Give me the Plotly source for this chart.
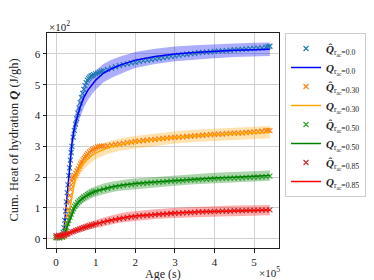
import plotly.graph_objects as go

# ---------------- data (x in units of 1e5 s, y in units of J/gh) ----------------
X_SCALE = 1e5

FIT_X = [0, 0.1, 0.15, 0.2, 0.25, 0.3, 0.35, 0.4, 0.45, 0.5, 0.6, 0.7, 0.8, 0.9, 1.0,
         1.2, 1.4, 1.6, 1.8, 2.0, 2.5, 3.0, 3.5, 4.0, 4.5, 5.0, 5.4]

FIT_R00 = [5, 5, 8, 30, 100, 180, 250, 310, 352, 380, 425, 458, 482, 500, 515,
           538, 552, 563, 572, 580, 592, 600, 605, 609, 612, 614, 615]
FIT_R30 = [5, 6, 6, 8, 25, 65, 106, 145, 175, 198, 228, 247, 260, 270, 278,
           290, 299, 305, 310, 314, 322, 329, 334, 338, 341, 344, 346]
FIT_R50 = [5, 5, 6, 12, 30, 48, 63, 80, 95, 108, 123, 134, 142, 149, 154,
           162, 168, 173, 176, 179, 184, 189, 194, 197, 200, 203, 205]
FIT_R85 = [8, 10, 11, 12, 14, 16, 20, 22, 25, 28, 32, 37, 41, 45, 48,
           55, 61, 67, 71, 74, 80, 84, 87, 89, 91, 92, 93]

BAND_R00 = [3, 4, 6, 10, 18, 25, 30, 32, 33, 33, 33, 33, 32, 32, 31,
            30, 29, 28, 27, 26, 25, 24, 23, 23, 22, 22, 22]
BAND_R30 = [3, 3, 4, 5, 10, 15, 18, 20, 21, 21, 21, 21, 21, 21, 20,
            20, 20, 20, 20, 20, 20, 20, 20, 20, 20, 20, 20]
BAND_R50 = [3, 3, 3, 4, 8, 10, 12, 13, 14, 15, 16, 16, 17, 17, 17,
            17, 17, 17, 17, 17, 17, 17, 17, 17, 17, 17, 17]
BAND_R85 = [4, 4, 5, 5, 6, 7, 8, 9, 10, 10, 11, 12, 12, 13, 13,
            14, 15, 15, 16, 16, 16, 17, 17, 17, 17, 17, 17]

OBS_X_R00 = [0, 0.03, 0.06, 0.09, 0.12, 0.15, 0.18, 0.2, 0.22, 0.24, 0.26, 0.28, 0.30, 0.32,
             0.34, 0.36, 0.38, 0.40, 0.43, 0.46, 0.49, 0.52, 0.55, 0.58, 0.61, 0.64, 0.67,
             0.70, 0.73, 0.76, 0.79, 0.82, 0.85, 0.88, 0.91, 0.95, 1.0, 1.05, 1.1, 1.15, 1.2,
             1.3, 1.4, 1.5, 1.6, 1.7, 1.8, 1.9, 2.0, 2.1, 2.2, 2.3, 2.4, 2.5, 2.6, 2.7, 2.8,
             2.9, 3.0, 3.1, 3.2, 3.3, 3.4, 3.5, 3.6, 3.7, 3.8, 3.9, 4.0, 4.1, 4.2, 4.3, 4.4,
             4.5, 4.6, 4.7, 4.8, 4.9, 5.0, 5.1, 5.2, 5.3, 5.35, 5.4]
OBS_Y_R00 = [5, 3, 6, 4, 8, 12, 20, 35, 60, 90, 120, 150, 175, 205,
             230, 255, 280, 300, 330, 352, 372, 390, 408, 425, 442, 458, 472,
             485, 497, 507, 515, 521, 525, 528, 530, 533, 535, 538, 541, 544, 546,
             550, 554, 558, 562, 565, 568, 571, 573, 576, 578, 580, 582, 584, 586, 588, 590,
             592, 594, 596, 598, 599, 601, 602, 604, 605, 606, 607, 608, 609, 610, 611, 612,
             613, 614, 615, 616, 617, 618, 619, 620, 622, 624, 625]

OBS_X_R30 = [0, 0.04, 0.08, 0.12, 0.16, 0.2, 0.22, 0.24, 0.26, 0.28, 0.30, 0.32, 0.34, 0.36,
             0.38, 0.40, 0.42, 0.44, 0.47, 0.50, 0.53, 0.56, 0.59, 0.62, 0.65, 0.68, 0.71,
             0.74, 0.77, 0.80, 0.84, 0.88, 0.92, 0.96, 1.0, 1.05, 1.1, 1.15, 1.2, 1.3, 1.4,
             1.5, 1.6, 1.7, 1.8, 1.9, 2.0, 2.1, 2.2, 2.3, 2.4, 2.5, 2.6, 2.7, 2.8, 2.9, 3.0,
             3.1, 3.2, 3.3, 3.4, 3.5, 3.6, 3.7, 3.8, 3.9, 4.0, 4.1, 4.2, 4.3, 4.4, 4.5, 4.6,
             4.7, 4.8, 4.9, 5.0, 5.1, 5.2, 5.3, 5.35, 5.4]
OBS_Y_R30 = [4, 6, 3, 7, 5, 8, 15, 30, 50, 75, 95, 120, 140, 160,
             175, 188, 196, 200, 205, 212, 220, 228, 236, 243, 249, 255, 261,
             266, 271, 276, 281, 285, 289, 292, 295, 298, 300, 301, 301, 302, 304,
             306, 308, 310, 312, 314, 316, 317, 319, 320, 322, 323, 324, 326, 327, 328, 329,
             330, 331, 332, 333, 334, 335, 336, 337, 338, 339, 340, 340, 341, 342, 343, 343,
             344, 345, 346, 347, 348, 349, 351, 352, 351]

OBS_X_R50 = [0, 0.04, 0.08, 0.12, 0.16, 0.2, 0.23, 0.26, 0.29, 0.32, 0.35, 0.38, 0.41, 0.44,
             0.47, 0.50, 0.54, 0.58, 0.62, 0.66, 0.70, 0.75, 0.80, 0.85, 0.90, 0.95, 1.0,
             1.1, 1.2, 1.3, 1.4, 1.5, 1.6, 1.7, 1.8, 1.9, 2.0, 2.1, 2.2, 2.3, 2.4, 2.5, 2.6,
             2.7, 2.8, 2.9, 3.0, 3.1, 3.2, 3.3, 3.4, 3.5, 3.6, 3.7, 3.8, 3.9, 4.0, 4.1, 4.2,
             4.3, 4.4, 4.5, 4.6, 4.7, 4.8, 4.9, 5.0, 5.1, 5.2, 5.3, 5.4]
OBS_Y_R50 = [4, 7, 3, 6, 5, 10, 22, 38, 50, 60, 70, 80, 90, 98,
             105, 111, 117, 122, 127, 131, 135, 139, 143, 146, 149, 152, 154,
             158, 161, 164, 167, 169, 171, 173, 175, 176, 178, 179, 180, 181, 182, 183, 184,
             185, 186, 187, 188, 188, 189, 190, 191, 191, 192, 193, 193, 194, 195, 195, 196,
             196, 197, 197, 198, 198, 199, 199, 200, 200, 201, 202, 203]

OBS_X_R85 = [0, 0.03, 0.06, 0.09, 0.12, 0.15, 0.18, 0.21, 0.24, 0.27, 0.30, 0.35, 0.40, 0.45,
             0.50, 0.55, 0.60, 0.65, 0.70, 0.75, 0.80, 0.85, 0.90, 0.95, 1.0, 1.1, 1.2, 1.3,
             1.4, 1.5, 1.6, 1.7, 1.8, 1.9, 2.0, 2.1, 2.2, 2.3, 2.4, 2.5, 2.6, 2.7, 2.8, 2.9,
             3.0, 3.1, 3.2, 3.3, 3.4, 3.5, 3.6, 3.7, 3.8, 3.9, 4.0, 4.1, 4.2, 4.3, 4.4, 4.5,
             4.6, 4.7, 4.8, 4.9, 5.0, 5.1, 5.2, 5.3, 5.4]
OBS_Y_R85 = [10, 6, 12, 8, 11, 9, 13, 12, 15, 14, 17, 19, 22, 24,
             27, 29, 31, 34, 36, 38, 40, 42, 44, 46, 48, 51, 54, 57,
             60, 62, 65, 67, 69, 71, 72, 74, 75, 76, 77, 78, 79, 80, 81, 82,
             83, 83, 84, 85, 85, 86, 87, 87, 88, 88, 89, 89, 90, 90, 90, 91,
             91, 91, 92, 92, 92, 93, 93, 93, 94]

RATIOS = ["0.0", "0.30", "0.50", "0.85"]
X_TICK_VALS = [0, 1, 2, 3, 4, 5]
X_TICK_TEXT = ["0", "1", "2", "3", "4", "5"]
Y_TICK_VALS = [0, 100, 200, 300, 400, 500, 600]
Y_TICK_TEXT = ["0", "1", "2", "3", "4", "5", "6"]

# ---------------- styling ----------------
FONT = "Liberation Serif"
series = [
    (FIT_R00, BAND_R00, OBS_X_R00, OBS_Y_R00, "#0000ff", "rgba(0,0,255,0.32)", "#1f77b4"),
    (FIT_R30, BAND_R30, OBS_X_R30, OBS_Y_R30, "#ffa500", "rgba(255,165,0,0.32)", "#ff7f0e"),
    (FIT_R50, BAND_R50, OBS_X_R50, OBS_Y_R50, "#008000", "rgba(0,128,0,0.32)", "#2ca02c"),
    (FIT_R85, BAND_R85, OBS_X_R85, OBS_Y_R85, "#ff0000", "rgba(255,0,0,0.32)", "#d62728"),
]

fig = go.Figure()
fx = [v * X_SCALE for v in FIT_X]
for i, (fit, band, ox, oy, lc, bc, mc) in enumerate(series):
    upper = [f + b for f, b in zip(fit, band)]
    lower = [f - b for f, b in zip(fit, band)]
    fig.add_trace(go.Scatter(x=fx + fx[::-1], y=upper + lower[::-1], fill="toself",
                             fillcolor=bc, line=dict(width=0), mode="lines",
                             showlegend=False, hoverinfo="skip"))
for i, (fit, band, ox, oy, lc, bc, mc) in enumerate(series):
    r = RATIOS[i]
    fig.add_trace(go.Scatter(
        x=[v * X_SCALE for v in ox], y=oy, mode="markers",
        marker=dict(symbol="x-thin", size=5, line=dict(width=1.1, color=mc), color=mc),
        name="<b><i>Q̂</i></b><sub>r<sub>ac</sub>=" + r + "</sub>",
        legendrank=10 * i + 1))
    fig.add_trace(go.Scatter(
        x=fx, y=fit, mode="lines", line=dict(color=lc, width=1.5),
        name="<b><i>Q</i></b><sub>r<sub>ac</sub>=" + r + "</sub>",
        legendrank=10 * i + 2))

axis_common = dict(showgrid=True, gridcolor="#d0d0d0", gridwidth=1, zeroline=False,
                   showline=True, mirror=True, linecolor="#222222", linewidth=1,
                   ticks="outside", ticklen=3.5, tickcolor="#222222", automargin=False,
                   tickfont=dict(family=FONT, size=11, color="#222222"))

# The page body adds an 8px offset (top/left), so the figure is drawn 8px smaller.
fig.update_layout(
    width=366, height=272, autosize=False,
    margin=dict(l=39, r=95, t=25, b=32, autoexpand=False),
    paper_bgcolor="white", plot_bgcolor="white",
    font=dict(family=FONT, size=11, color="#222222"),
    xaxis=dict(range=[-0.23 * X_SCALE, 5.63 * X_SCALE],
               tickvals=[v * X_SCALE for v in X_TICK_VALS], ticktext=X_TICK_TEXT,
               **axis_common),
    yaxis=dict(range=[-30, 668], tickvals=Y_TICK_VALS, ticktext=Y_TICK_TEXT,
               **axis_common),
    legend=dict(x=1.026, y=1.0, xanchor="left", yanchor="top",
                bordercolor="#cccccc", borderwidth=1, bgcolor="white",
                font=dict(family=FONT, size=11, color="#222222"),
                tracegroupgap=0, itemwidth=30),
    annotations=[
        dict(text="Age (s)", xref="paper", yref="paper", x=0.5, y=0, yshift=-26,
             showarrow=False, xanchor="center", yanchor="middle",
             font=dict(family=FONT, size=12)),
        dict(text="Cum. Heat of hydration <b><i>Q</i></b> (J/gh)", xref="paper", yref="paper",
             x=0, xshift=-34, y=0.5, textangle=-90, showarrow=False,
             xanchor="center", yanchor="middle", font=dict(family=FONT, size=12.5)),
        dict(text="×10<sup>5</sup>", xref="paper", yref="paper", x=0.905, y=0, yshift=-24,
             showarrow=False, xanchor="left", yanchor="middle",
             font=dict(family=FONT, size=11)),
        dict(text="×10<sup>2</sup>", xref="paper", yref="paper", x=0, y=1, yshift=7,
             showarrow=False, xanchor="left", yanchor="middle",
             font=dict(family=FONT, size=11)),
    ],
)

fig.write_html("out.html")
